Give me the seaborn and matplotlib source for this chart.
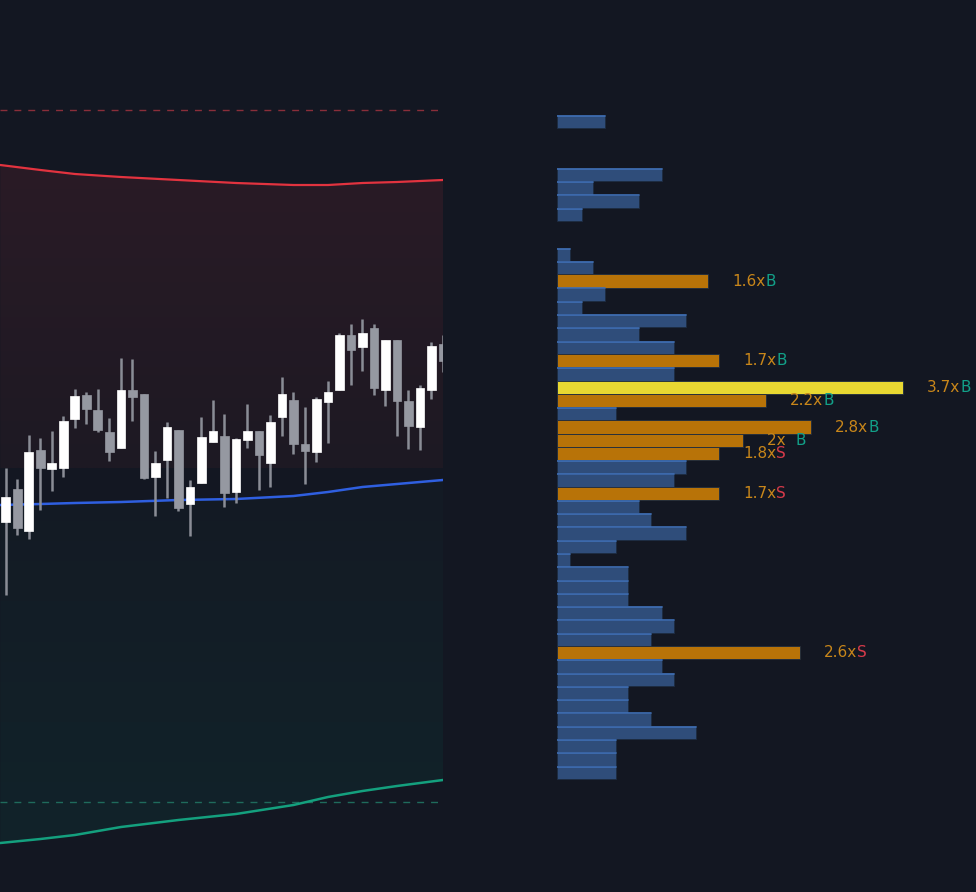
import numpy as np
import matplotlib
matplotlib.use("Agg")
import matplotlib.pyplot as plt
import seaborn as sns
import pandas as pd
from matplotlib.colors import LinearSegmentedColormap

# ---------------- data ----------------
opens  = [37.8,41.1,36.9,45.0,43.1,43.2,48.1,50.5,49.0,46.8,45.2,51.0,50.6,42.3,44.0,47.0,39.6,41.7,45.8,46.4,
          40.8,46.0,46.9,43.7,48.3,50.0,45.6,44.8,49.8,51.0,56.5,55.3,57.2,51.0,56.0,49.9,47.3,51.0,55.6]
closes = [40.3,37.2,44.8,43.2,43.7,47.9,50.4,49.1,47.0,44.8,51.0,50.3,42.2,43.7,47.3,39.2,41.3,46.3,46.9,40.7,
          46.1,46.9,44.5,47.8,50.6,45.6,44.9,50.1,50.8,56.5,55.0,56.7,51.2,56.0,49.9,47.4,51.2,55.4,53.9]
highs  = [43.2,42.1,46.5,46.2,46.9,48.4,51.1,50.8,51.1,48.2,54.2,54.1,50.6,44.9,47.8,47.0,42.0,48.3,50.0,48.6,
          46.2,49.6,46.9,48.5,52.3,50.8,49.3,50.3,51.9,56.7,57.6,58.1,57.6,56.0,56.0,51.0,51.5,55.8,56.5]
lows   = [30.5,36.5,36.1,39.0,40.9,42.3,47.2,47.6,46.8,43.9,45.2,47.9,42.1,38.4,40.2,38.9,36.4,41.7,45.8,39.3,
          39.7,45.2,41.0,41.3,46.4,44.6,41.6,43.8,45.7,51.0,51.5,52.9,50.5,49.4,46.4,45.1,45.0,50.1,52.8]

band_x     = [-0.5, 3, 6, 10, 15, 20, 25, 28, 31, 34, 38]
upper_band = [73.5, 73.0, 72.6, 72.3, 72.0, 71.7, 71.5, 71.5, 71.7, 71.8, 72.0]
mid_band   = [39.5, 39.6, 39.7, 39.8, 40.0, 40.1, 40.4, 40.8, 41.3, 41.6, 42.0]
lower_band = [5.7, 6.1, 6.5, 7.3, 8.0, 8.6, 9.5, 10.3, 10.9, 11.4, 12.0]
upper_dash = 79.0
lower_dash = 9.8
warm_floor = 43.2

profile_vol = [48,0,0,0,105,36,82,25,0,0,13,36,151,48,25,129,82,117,162,117,346,209,59,254,186,
               162,129,117,162,82,94,129,59,13,71,71,71,105,117,94,243,105,117,71,71,94,139,59,59,59]
profile_top = 78.5
profile_step = 1.328
hot_rows = {12:("1.6x","B"),18:("1.7x","B"),20:("3.7x","B"),21:("2.2x","B"),23:("2.8x","B"),
            24:("2x  ","B"),25:("1.8x","S"),28:("1.7x","S"),40:("2.6x","S")}
poc_row = 20

# ---------------- style ----------------
BG = "#131722"
sns.set_theme(style="dark", rc={"axes.facecolor": BG, "figure.facecolor": BG})
plt.rcParams['font.family'] = ['DejaVu Sans']

W, H = 976, 892
fig = plt.figure(figsize=(W/100, H/100), dpi=100)
ax = fig.add_axes([0, 0, 443/W, 1])
ax2 = fig.add_axes([557/W, 0, 1-557/W, 1])
ylim = (0.8, 90.0)
for a in (ax, ax2):
    a.set_ylim(*ylim)
    a.set_facecolor(BG)
    a.axis("off")
ax.set_xlim(-0.52, 38.0)
ax2.set_xlim(0, 419)

def grad_fill(a, x, y1, y2, c_top, c_bot):
    poly = a.fill_between(x, y1, y2, color="none", lw=0)
    cmap = LinearSegmentedColormap.from_list("g", [c_bot, c_top])
    lo, hi = min(np.min(y1), np.min(y2)), max(np.max(y1), np.max(y2))
    im = a.imshow(np.linspace(0, 1, 256).reshape(-1, 1), cmap=cmap, aspect="auto",
                  extent=[x[0], x[-1], lo, hi], origin="lower", zorder=0)
    im.set_clip_path(poly.get_paths()[0], transform=a.transData)

bx = np.array(band_x)
grad_fill(ax, bx, np.array(upper_band), np.full(len(bx), warm_floor), "#2a1b26", "#1d1923")
grad_fill(ax, bx, np.array(mid_band), np.array(lower_band), "#141a24", "#11232a")
ax.set_xlim(-0.52, 38.0); ax.set_ylim(*ylim)

df = pd.DataFrame({"x": bx, "up": upper_band, "mid": mid_band, "low": lower_band})
sns.lineplot(data=df, x="x", y="up", ax=ax, color="#e2333f", lw=1.6, zorder=3)
sns.lineplot(data=df, x="x", y="mid", ax=ax, color="#2f5fe0", lw=1.8, zorder=3)
sns.lineplot(data=df, x="x", y="low", ax=ax, color="#14a07e", lw=1.8, zorder=3)
ax.axhline(upper_dash, color="#8a2e3a", ls=(0, (5, 5)), lw=1)
ax.axhline(lower_dash, color="#1f6b5c", ls=(0, (5, 5)), lw=1)

for i, (o, c, h, l) in enumerate(zip(opens, closes, highs, lows)):
    up = c >= o
    col = "#ffffff" if up else "#9598a1"
    ax.vlines(i, l, h, color="#8a8d96", lw=1.8, zorder=4)
    ax.bar(i, abs(c - o), bottom=min(o, c), width=0.78, color=col, edgecolor=col, lw=0.5, zorder=5)
ax.set_xlim(-0.52, 38.0); ax.set_ylim(*ylim)

for k, v in enumerate(profile_vol):
    if v <= 0:
        continue
    top = profile_top - k * profile_step
    if k == poc_row:
        col = "#e8d832"
    elif k in hot_rows:
        col = "#b87308"
    else:
        col = "#2f4d7a"
    ax2.barh(top - profile_step/2, v, height=profile_step, left=0, color=col, edgecolor="#1d2b40", lw=0.6, zorder=2)
    if col == "#2f4d7a":
        ax2.plot([0, v], [top - 0.08, top - 0.08], color="#3f6fb5", lw=1.2, zorder=3)

for k, (num, side) in hot_rows.items():
    v = profile_vol[k]
    yc = profile_top - k * profile_step - profile_step/2
    t = ax2.text(v + 24, yc, num, color="#c8861a", fontsize=11, va="center", ha="left")
    ax2.annotate(side, xy=(1, 0.5), xycoords=t, xytext=(0, 0), textcoords="offset points",
                 va="center", ha="left", fontsize=11,
                 color="#12a088" if side == "B" else "#d63a4a")

fig.savefig("out.png", dpi=100, facecolor=BG)
